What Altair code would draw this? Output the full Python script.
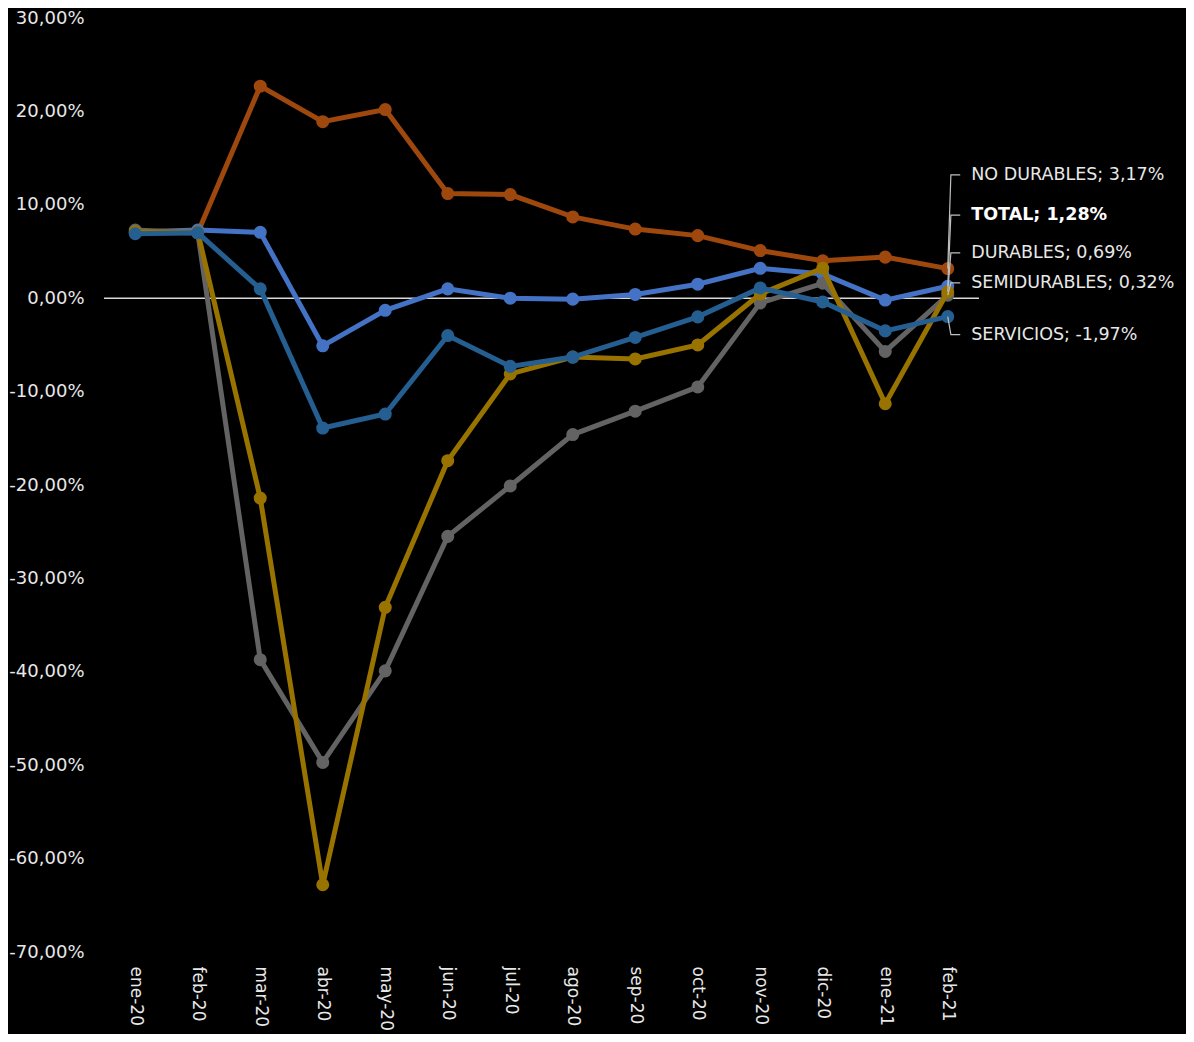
import altair as alt
import pandas as pd

months = ["ene-20", "feb-20", "mar-20", "abr-20", "may-20", "jun-20", "jul-20",
          "ago-20", "sep-20", "oct-20", "nov-20", "dic-20", "ene-21", "feb-21"]

no_durables = [7.0, 7.0, 22.7, 18.9, 20.2, 11.2, 11.1, 8.7, 7.4, 6.7, 5.1, 4.0, 4.4, 3.17]
total = [7.1, 7.3, 7.05, -5.1, -1.3, 1.0, 0.0, -0.1, 0.4, 1.5, 3.2, 2.6, -0.2, 1.28]
durables = [7.1, 7.1, -21.4, -62.8, -33.1, -17.4, -8.1, -6.3, -6.5, -5.0, 0.45, 3.2, -11.3, 0.69]
semidurables = [7.3, 7.0, -38.7, -49.7, -39.9, -25.5, -20.1, -14.6, -12.1, -9.5, -0.5, 1.6, -5.7, 0.32]
servicios = [6.9, 7.0, 1.0, -13.9, -12.4, -4.0, -7.3, -6.3, -4.2, -2.0, 1.1, -0.4, -3.5, -1.97]

series_names = ["NO DURABLES", "TOTAL", "SEMIDURABLES", "DURABLES", "SERVICIOS"]
series_values = [no_durables, total, semidurables, durables, servicios]
series_colors = ["#9E480E", "#4472C4", "#636363", "#997300", "#255E91"]

# label anchor heights (in value units) for end-of-line labels
label_pos = {"NO DURABLES": 13.2, "TOTAL": 8.9, "DURABLES": 4.85,
             "SEMIDURABLES": 1.65, "SERVICIOS": -3.9}

rows = []
for name, vals in zip(series_names, series_values):
    for i, v in enumerate(vals):
        rows.append({"serie": name, "idx": i, "valor": v})
df = pd.DataFrame(rows)

last = len(months) - 1
lead_rows, lab_rows = [], []
for name, vals in zip(series_names, series_values):
    ly = label_pos[name]
    v = vals[-1]
    lead_rows += [
        {"serie": name, "idx": last, "valor": v},
        {"serie": name, "idx": last + 0.05, "valor": ly},
        {"serie": name, "idx": last + 0.2, "valor": ly},
    ]
    txt = f"{name}; " + (f"{v:.2f}".replace(".", ",")) + "%"
    lab_rows.append({"serie": name, "idx": last + 0.2, "valor": ly, "txt": txt,
                     "bold": name == "TOTAL"})
lead_df = pd.DataFrame(lead_rows)
lab_df = pd.DataFrame(lab_rows)

FONT = "DejaVu Sans"
TXT = "#E8E8E8"

month_arr = "[" + ",".join(f"'{m}'" for m in months) + "]"
x_enc = alt.X("idx:Q",
              scale=alt.Scale(domain=[-0.5, last + 0.5], nice=False, zero=False),
              axis=alt.Axis(values=list(range(len(months))),
                            labelExpr=f"{month_arr}[datum.value]",
                            labelAngle=90, labelPadding=14, title=None,
                            grid=False, domain=False, ticks=False,
                            labelFont=FONT, labelFontSize=17, labelColor=TXT))
y_enc = alt.Y("valor:Q",
              scale=alt.Scale(domain=[-70, 30], nice=False, zero=False),
              axis=alt.Axis(values=list(range(-70, 31, 10)),
                            labelExpr="(datum.value < 0 ? '-' : '') + replace(format(abs(datum.value), '.2f'), '.', ',') + '%'",
                            labelPadding=20, title=None,
                            grid=False, domain=False, ticks=False,
                            labelFont=FONT, labelFontSize=18, labelColor=TXT))

zero = alt.Chart(pd.DataFrame({"valor": [0]})).mark_rule(
    color="#D9D9D9", strokeWidth=1.5).encode(y=y_enc)

layers = [zero]
for name, col in zip(series_names, series_colors):
    base = alt.Chart(df).transform_filter(alt.datum.serie == name)
    layers.append(base.mark_line(color=col, strokeWidth=5).encode(x=x_enc, y=y_enc))
    layers.append(base.mark_circle(color=col, size=170, opacity=1).encode(x=x_enc, y=y_enc))

leaders = alt.Chart(lead_df).mark_line(color="#BFBFBF", strokeWidth=1.2).encode(
    x=x_enc, y=y_enc, detail="serie:N")
labels_norm = alt.Chart(lab_df).transform_filter(~alt.datum.bold).mark_text(
    align="left", baseline="middle", dx=11, font=FONT, fontSize=17.5, color=TXT).encode(
    x=x_enc, y=y_enc, text="txt:N")
labels_bold = alt.Chart(lab_df).transform_filter(alt.datum.bold).mark_text(
    align="left", baseline="middle", dx=11, font=FONT, fontSize=17.5, fontWeight="bold",
    color="#FFFFFF").encode(x=x_enc, y=y_enc, text="txt:N")

chart = alt.layer(*layers, leaders, labels_norm, labels_bold).properties(
    width=875, height=934, background="#000000",
    autosize=alt.AutoSizeParams(type="none"),
    padding={"left": 96, "top": 10, "right": 207, "bottom": 82}
).configure_view(stroke=None)

chart.save("out.html", embed_options={"renderer": "svg", "actions": False})
